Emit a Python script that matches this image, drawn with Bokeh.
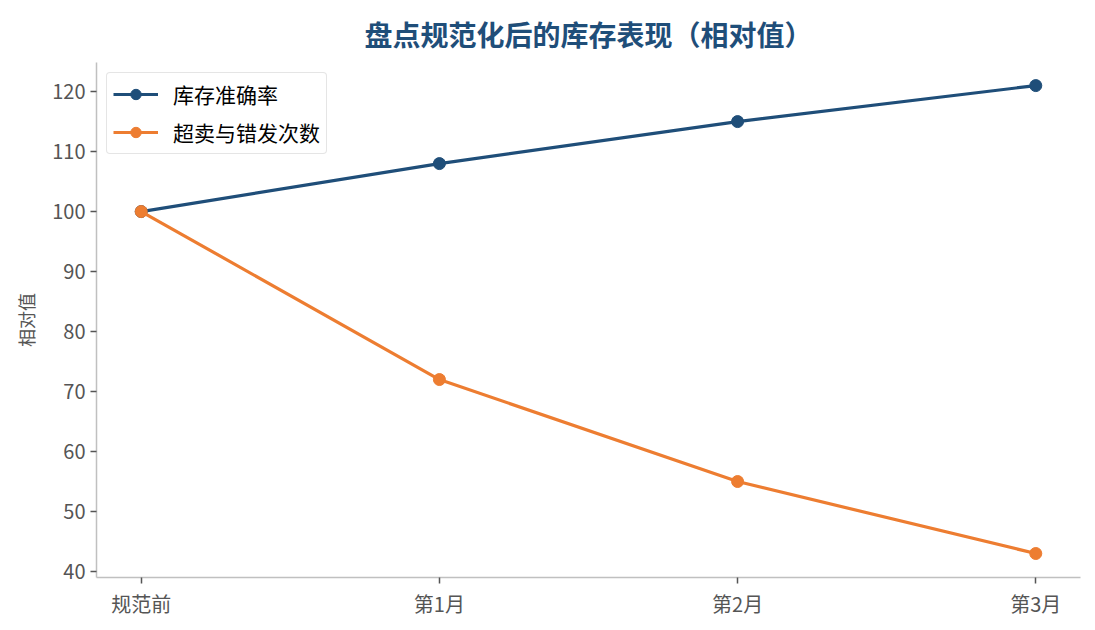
from bokeh.plotting import figure
from bokeh.models import FixedTicker, Legend, LegendItem, Range1d
from bokeh.embed import file_html
from bokeh.resources import INLINE

periodos = ["规范前", "第1月", "第2月", "第3月"]
precision = [100, 108, 115, 121]
sobreventa = [100, 72, 55, 43]
nombres = ["库存准确率", "超卖与错发次数"]
colores = ["#1f4e79", "#ed7d31"]

FUENTE = "Noto Sans CJK SC"
x = list(range(len(periodos)))

p = figure(width=1087, height=622, output_backend="svg", toolbar_location=None,
           x_range=Range1d(-0.15, 3.15), y_range=Range1d(39, 124.85),
           min_border_left=96, min_border_right=7, min_border_top=62, min_border_bottom=45)
p.outline_line_color = None
p.xgrid.grid_line_color = None
p.ygrid.grid_line_color = None

p.title.text = "盘点规范化后的库存表现（相对值）"
p.title.align = "center"
p.title.text_font = FUENTE
p.title.text_font_size = "28px"
p.title.text_font_style = "bold"
p.title.text_color = "#1f4e79"
p.title.standoff = 17

items = []
for serie, nombre, color in zip([precision, sobreventa], nombres, colores):
    l = p.line(x, serie, line_color=color, line_width=3.2)
    c = p.scatter(x, serie, size=12, fill_color=color, line_color=color)
    items.append(LegendItem(label=nombre, renderers=[l, c]))

leg = Legend(items=items, location="top_left")
leg.label_text_font = FUENTE
leg.label_text_font_size = "21px"
leg.label_text_color = "#000000"
leg.border_line_color = "#cccccc"
leg.border_line_width = 1.5
leg.border_radius = 4
leg.glyph_width = 45
leg.glyph_height = 26
leg.label_height = 26
leg.label_standoff = 15
leg.spacing = 8
leg.padding = 6
leg.margin = 10
p.add_layout(leg)

p.xaxis.ticker = FixedTicker(ticks=x)
p.xaxis.major_label_overrides = {i: t for i, t in enumerate(periodos)}
p.yaxis.ticker = FixedTicker(ticks=[40, 50, 60, 70, 80, 90, 100, 110, 120])
p.yaxis.axis_label = "相对值"

for ax in [p.xaxis[0], p.yaxis[0]]:
    ax.axis_line_color = "#c0c0c0"
    ax.axis_line_width = 1.5
    ax.major_tick_line_color = "#555555"
    ax.major_tick_line_width = 1.5
    ax.major_tick_in = 0
    ax.major_tick_out = 6
    ax.minor_tick_line_color = None
    ax.major_label_text_font = FUENTE
    ax.major_label_text_font_size = "20px"
    ax.major_label_text_color = "#555555"
    ax.axis_label_text_font = FUENTE
    ax.axis_label_text_font_size = "18px"
    ax.axis_label_text_font_style = "normal"
    ax.axis_label_text_color = "#555555"
    ax.axis_label_standoff = 10

open("out.html", "w").write(file_html(p, INLINE))
